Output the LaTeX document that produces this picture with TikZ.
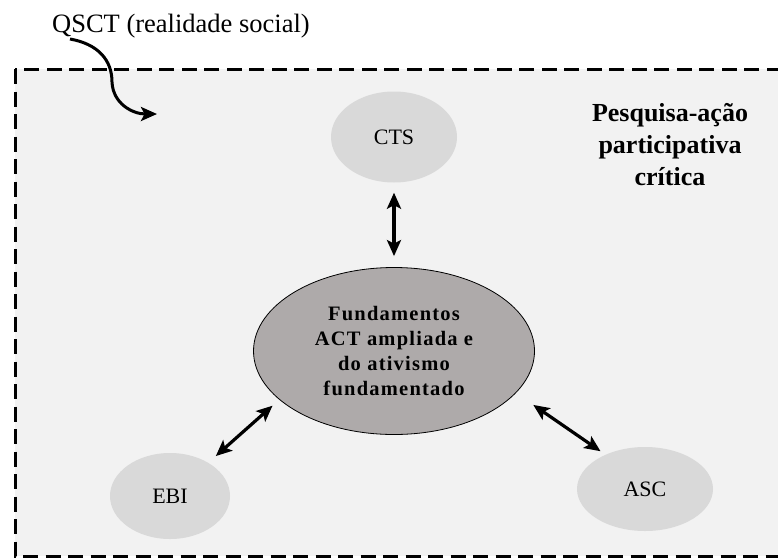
\documentclass[tikz,border=0pt]{standalone}
\usepackage{fontspec}
\setmainfont{Liberation Serif}
\usetikzlibrary{arrows.meta,shapes.geometric}
\definecolor{boxfill}{RGB}{242,242,242}
\definecolor{topicfill}{RGB}{217,217,217}
\definecolor{corefill}{RGB}{174,170,170}
\tikzset{
  headtip/.tip={Stealth[length=16pt,width=14pt,inset=3.5pt]},
  topic/.style={ellipse, fill=topicfill, inner sep=0pt,
    font=\fontsize{22}{25}\selectfont},
  core/.style={ellipse, fill=corefill, draw=black, line width=0.8pt,
    inner sep=0pt, align=center,
    font=\fontsize{20.5}{25}\selectfont\bfseries\addfontfeature{LetterSpace=6}},
  link/.style={line width=3.2pt, headtip-headtip},
  frame/.style={fill=boxfill, draw=black, line width=3pt,
    dash pattern=on 15pt off 7.5pt},
}
\begin{document}
\begin{tikzpicture}[x=1pt,y=-1pt]
\useasboundingbox (0,0) rectangle (778,557);
\clip (0,0) rectangle (778,557);

% dashed frame of the social reality
\path[frame] (15,69) rectangle (800,556);

% title outside the frame
\node[anchor=base west, inner sep=0pt, font=\fontsize{26.5}{30}\selectfont]
  (qsct) at (52,32) {QSCT (realidade social)};

% method label
\node[align=center, inner sep=0pt, font=\fontsize{26}{32}\selectfont\bfseries]
  (pac) at (670,145) {Pesquisa-ação\\participativa\\crítica};

% ellipses
\node[topic, minimum width=126pt, minimum height=91pt] (cts) at (394,137) {CTS};
\node[topic, minimum width=120pt, minimum height=86pt] (ebi) at (170,496) {EBI};
\node[topic, minimum width=136pt, minimum height=84pt] (asc) at (645,489) {ASC};
\node[core, minimum width=281pt, minimum height=167pt] (fund) at (394,351)
  {Fundamentos\\ACT ampliada e\\do ativismo\\fundamentado};

% double-headed links
\draw[link, shorten <=10pt, shorten >=11pt] (cts.south) -- (fund.north);
\draw[link, shorten <=10pt, shorten >=9pt] (ebi.41) -- (fund.203);
\draw[link, shorten <=21pt, shorten >=6pt] (fund.-19) -- (asc.139);

% curved arrow entering the frame
\coordinate (qs) at (70,39);
\coordinate (qe) at (157,114);
\draw[line width=3pt, -headtip] (qs) .. controls (98,44) and (112,60) .. (112,82)
  .. controls (113,104) and (133,114) .. (qe);
\end{tikzpicture}
\end{document}
